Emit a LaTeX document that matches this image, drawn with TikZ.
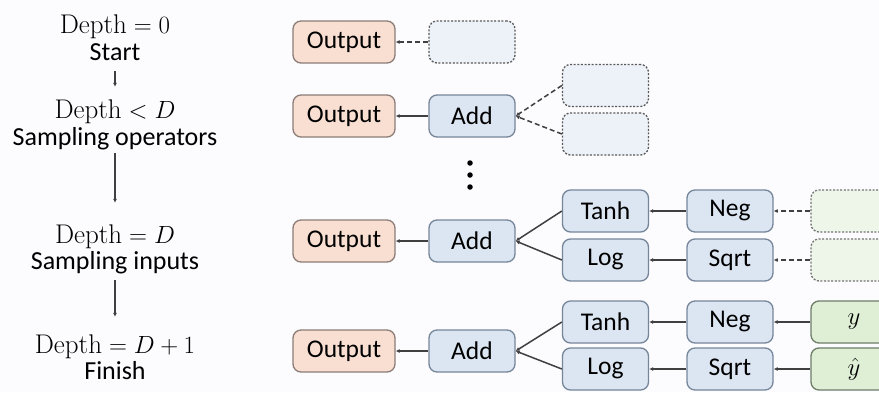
\documentclass[tikz,border=0pt]{standalone}
\usepackage{fontspec}
\newfontfamily\carl{Carlito}
\usetikzlibrary{arrows.meta}
\definecolor{outfill}{HTML}{F9DFD2}
\definecolor{outdraw}{HTML}{8B7D77}
\definecolor{bluefill}{HTML}{DCE6F2}
\definecolor{bluedraw}{HTML}{76869A}
\definecolor{dashbluefill}{HTML}{EDF2F9}
\definecolor{greenfill}{HTML}{DEEFD6}
\definecolor{greendraw}{HTML}{6E7D68}
\definecolor{dashgreenfill}{HTML}{EEF6EA}
\definecolor{linec}{HTML}{404040}
\definecolor{bgc}{HTML}{FCFBFD}
\begin{document}
\begin{tikzpicture}[x=1pt,y=-1pt,
  box/.style={rounded corners=8pt, line width=1.3pt, minimum height=42pt, inner sep=0pt,
    font=\carl\fontsize{25.5}{28}\selectfont},
  outbox/.style={box, draw=outdraw, fill=outfill, minimum width=102pt},
  opbox/.style={box, draw=bluedraw, fill=bluefill, minimum width=86pt},
  inbox/.style={box, draw=greendraw, fill=greenfill, minimum width=86pt},
  emptyblue/.style={box, draw=black!65, fill=dashbluefill, minimum width=86pt, dash pattern=on 2pt off 1.6pt},
  emptygreen/.style={box, draw=black!55, fill=dashgreenfill, minimum width=86pt, dash pattern=on 2pt off 1.6pt},
  lbl/.style={anchor=base, inner sep=0pt, text height=18pt, text depth=5pt, font=\fontsize{27}{30}\selectfont},
  slbl/.style={lbl, font=\carl\fontsize{26}{30}\selectfont},
  conn/.style={draw=linec, line width=1.5pt, -{Latex[length=4pt,width=4pt]}},
  dconn/.style={conn, dash pattern=on 5pt off 3pt},
  dotn/.style={circle, fill=black, inner sep=0pt, minimum size=5.5pt}
]
\useasboundingbox (0,0) rectangle (879,392);
\fill[bgc] (0,0) rectangle (879,392);
\clip (0,0) rectangle (879,392);

% left column
\node[lbl] (d0) at (115,33) {$\mathrm{Depth}=0$};
\node[slbl] (s0) at (115,60) {Start};
\node[lbl] (d1) at (115,118) {$\mathrm{Depth}<D$};
\node[slbl] (s1) at (115,145) {Sampling operators};
\node[lbl] (d2) at (115,243) {$\mathrm{Depth}=D$};
\node[slbl] (s2) at (115,269) {Sampling inputs};
\node[lbl] (d3) at (115,353) {$\mathrm{Depth}=D+1$};
\node[slbl] (s3) at (115,379) {Finish};
\draw[conn, shorten <=6pt, shorten >=13pt] (s0.south) -- (d1.north);
\draw[conn, shorten <=3pt, shorten >=22pt] (s1.south) -- (d2.north);
\draw[conn, shorten <=6pt, shorten >=18pt] (s2.south) -- (d3.north);

% row 1
\node[outbox] (o1) at (344,42) {Output};
\node[emptyblue] (e1) at (472,42) {};
\draw[dconn] (e1.west) -- (o1.east);

% row 2
\node[outbox] (o2) at (344,116) {Output};
\node[opbox] (a2) at (472,116) {Add};
\node[emptyblue] (e2a) at (605.5,85.5) {};
\node[emptyblue] (e2b) at (605.5,134) {};
\draw[conn] (a2.west) -- (o2.east);
\draw[dconn] (e2a.west) -- (a2.east);
\draw[dconn] (e2b.west) -- (a2.east);

% dots
\node[dotn] (p1) at (470,163) {};
\node[dotn] (p2) at (470,175) {};
\node[dotn] (p3) at (470,187) {};

% row 3
\node[outbox] (o3) at (344,241) {Output};
\node[opbox] (a3) at (472,241) {Add};
\node[opbox] (t3) at (605.5,211) {Tanh};
\node[opbox] (l3) at (605.5,260) {Log};
\node[opbox] (n3) at (730,211) {Neg};
\node[opbox] (q3) at (730,260) {Sqrt};
\node[emptygreen] (g3a) at (854,211) {};
\node[emptygreen] (g3b) at (854,260) {};
\draw[conn] (a3.west) -- (o3.east);
\draw[conn] (t3.west) -- (a3.east);
\draw[conn] (l3.west) -- (a3.east);
\draw[conn] (n3.west) -- (t3.east);
\draw[conn] (q3.west) -- (l3.east);
\draw[dconn] (g3a.west) -- (n3.east);
\draw[dconn] (g3b.west) -- (q3.east);

% row 4
\node[outbox] (o4) at (344,351) {Output};
\node[opbox] (a4) at (472,351) {Add};
\node[opbox] (t4) at (605.5,322) {Tanh};
\node[opbox] (l4) at (605.5,369) {Log};
\node[opbox] (n4) at (730,322) {Neg};
\node[opbox] (q4) at (730,369) {Sqrt};
\node[inbox] (y4) at (854,322) {$y$};
\node[inbox] (yh4) at (854,369) {$\hat{y}$};
\draw[conn] (a4.west) -- (o4.east);
\draw[conn] (t4.west) -- (a4.east);
\draw[conn] (l4.west) -- (a4.east);
\draw[conn] (n4.west) -- (t4.east);
\draw[conn] (q4.west) -- (l4.east);
\draw[conn] (y4.west) -- (n4.east);
\draw[conn] (yh4.west) -- (q4.east);
\end{tikzpicture}
\end{document}
